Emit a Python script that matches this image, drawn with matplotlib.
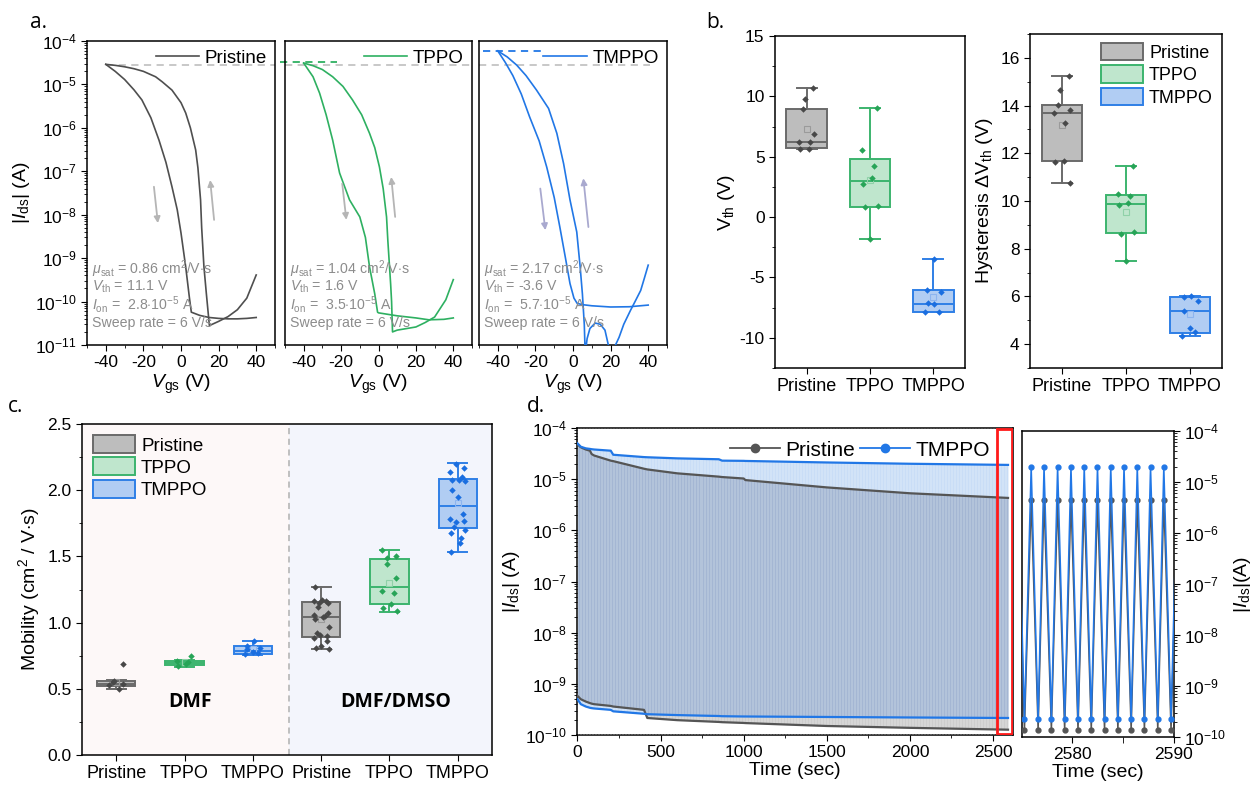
import numpy as np
import matplotlib
matplotlib.use("Agg")
import matplotlib.pyplot as plt
from matplotlib.patches import Patch
from matplotlib.lines import Line2D
from matplotlib.ticker import MultipleLocator, LogLocator, NullFormatter, FixedLocator

plt.rcParams['font.family'] = ['Liberation Sans', 'DejaVu Sans']
plt.rcParams['mathtext.fontset'] = 'custom'
plt.rcParams['mathtext.rm'] = 'Liberation Sans'
plt.rcParams['mathtext.it'] = 'Liberation Sans:italic'
plt.rcParams['mathtext.bf'] = 'Liberation Sans:bold'
plt.rcParams['mathtext.sf'] = 'Liberation Sans'
plt.rcParams['axes.linewidth'] = 1.1
plt.rcParams['axes.unicode_minus'] = False

# ---------------- colours ----------------
C_GREY = '#4f4f4f'
C_GREEN = '#2eb061'
C_BLUE = '#2177e6'

# ---------------- panel a data ----------------
pri_fwd_v = [-40, -35, -30, -25, -20.8, -16, -11.7, -8, -4.8, -2, 0, 2.5, 4.5, 5.5, 10, 15, 20, 25, 30, 35, 40]
pri_fwd_i = [2.9e-5, 2.0e-5, 1.3e-5, 7.5e-6, 4.4e-6, 1.7e-6, 5.2e-7, 1.6e-7, 4.4e-8, 1.3e-8, 3.8e-9, 6.3e-10,
             1.2e-10, 5.7e-11, 4.8e-11, 4.3e-11, 4.1e-11, 4.0e-11, 4.0e-11, 4.1e-11, 4.3e-11]
pri_rev_v = [40, 35, 30, 25, 20, 15.1, 13.5, 12.2, 11, 10.4, 9, 7.8, 5, 2.5, 0, -4.8, -10, -13.5, -20, -25, -30, -35, -40]
pri_rev_i = [4.1e-10, 1.2e-10, 6.5e-11, 4.5e-11, 3.5e-11, 2.8e-11, 1.5e-10, 6.3e-10, 5e-9, 2.2e-8, 1.2e-7, 3.1e-7,
             1.0e-6, 2.2e-6, 3.8e-6, 7.4e-6, 1.15e-5, 1.5e-5, 2.0e-5, 2.3e-5, 2.55e-5, 2.75e-5, 2.9e-5]

tppo_fwd_v = [-40, -35, -31.5, -28, -24.5, -20.8, -15.5, -10, -7, -4.8, -2, -0.5, 0, 10, 20, 27, 35, 40]
tppo_fwd_i = [3.1e-5, 1.5e-5, 6.3e-6, 2.0e-6, 5.2e-7, 9.1e-8, 2.2e-8, 8.9e-9, 3e-9, 6.3e-10, 1.5e-10, 5.7e-11,
              5.5e-11, 4.7e-11, 4.2e-11, 3.8e-11, 3.9e-11, 4.2e-11]
tppo_rev_v = [40, 36, 30, 25, 20, 10, 7.5, 7, 6.5, 5.9, 5, 4.3, 2.5, 0.5, -2, -4.8, -9, -13.9, -19, -24.5, -30, -35, -40]
tppo_rev_i = [3.2e-10, 1.1e-10, 4.4e-11, 3.3e-11, 2.6e-11, 2.2e-11, 2.0e-11, 1e-10, 2.5e-10, 6.3e-10, 2.5e-9, 8.9e-9,
              4e-8, 1.26e-7, 3.5e-7, 7.5e-7, 2.0e-6, 4.4e-6, 9e-6, 1.5e-5, 2.2e-5, 2.7e-5, 3.1e-5]

tmppo_fwd_v = [-40, -36, -32, -27.5, -23.1, -18, -14, -10, -7, -4, -1.6, 0.5, 2.2, 5, 10, 20, 30, 40]
tmppo_fwd_i = [5.9e-5, 3.2e-5, 1.6e-5, 6e-6, 1.8e-6, 5e-7, 1.26e-7, 2.5e-8, 5.2e-9, 1e-9, 2.6e-10, 1.2e-10,
               9.1e-11, 8.5e-11, 8e-11, 7.5e-11, 7.6e-11, 8.3e-11]
tmppo_rev_v = [40, 38, 36, 33, 30.6, 27, 24.5, 22.6, 21, 19.5, 18.8, 17, 14.5, 11.8, 9, 7.5, 6.5, 6.0, 5, 3.8, 2,
               -1.6, -5, -8.6, -13, -19.4, -25, -30, -35, -40]
tmppo_rev_i = [6.9e-10, 3.5e-10, 1.8e-10, 1e-10, 6.3e-11, 3e-11, 1.5e-11, 1e-11, 4e-12, 6e-12, 1e-11, 2.2e-11,
               3e-11, 3.2e-11, 2.4e-11, 1.4e-11, 6e-12, 3e-11, 1.5e-10, 6.3e-10, 4e-9, 2.2e-8, 1.5e-7, 7.5e-7,
               2.8e-6, 7.4e-6, 1.6e-5, 2.8e-5, 4.3e-5, 5.9e-5]

ion_levels = [2.85e-5, 3.3e-5, 5.9e-5]
a_labels = ['Pristine', 'TPPO', 'TMPPO']
a_texts = [
    [r'$\mu_{\rm sat}$ = 0.86 cm$^2$/V$\cdot$s', r'$V_{\rm th}$ = 11.1 V', r'$I_{\rm on}$ =  2.8$\cdot$10$^{-5}$ A', 'Sweep rate = 6 V/s'],
    [r'$\mu_{\rm sat}$ = 1.04 cm$^2$/V$\cdot$s', r'$V_{\rm th}$ = 1.6 V', r'$I_{\rm on}$ =  3.5$\cdot$10$^{-5}$ A', 'Sweep rate = 6 V/s'],
    [r'$\mu_{\rm sat}$ = 2.17 cm$^2$/V$\cdot$s', r'$V_{\rm th}$ = -3.6 V', r'$I_{\rm on}$ =  5.7$\cdot$10$^{-5}$ A', 'Sweep rate = 6 V/s'],
]

# ---------------- panel b data ----------------
groups = ['Pristine', 'TPPO', 'TMPPO']
vth_pts = [[10.67, 9.76, 8.96, 6.89, 6.25, 6.2, 5.65, 5.6],
           [9.0, 5.56, 4.24, 3.27, 2.72, 0.9, 0.85, -1.78],
           [-3.49, -6.03, -6.2, -7.15, -7.2, -7.85, -7.9]]
# whislo, q1, median, q3, whishi, mean
vth_stats = [(5.6, 5.7, 6.25, 8.95, 10.67, 7.3),
             (-1.78, 0.87, 2.95, 4.85, 9.0, 3.1),
             (-7.9, -7.88, -7.2, -6.03, -3.49, -6.6)]
hys_pts = [[15.26, 14.64, 14.04, 13.83, 13.69, 13.27, 11.67, 11.65, 10.77],
           [11.47, 10.3, 10.2, 9.9, 9.85, 8.7, 8.6, 7.5],
           [6.0, 5.98, 5.8, 5.41, 4.68, 4.5, 4.33]]
hys_stats = [(10.77, 11.67, 13.69, 14.04, 15.26, 13.2),
             (7.5, 8.65, 9.88, 10.26, 11.47, 9.55),
             (4.33, 4.48, 5.41, 5.97, 6.0, 5.25)]

# ---------------- panel c data ----------------
mob_labels = ['Pristine', 'TPPO', 'TMPPO', 'Pristine', 'TPPO', 'TMPPO']
mob_pts = [[0.69, 0.56, 0.55, 0.54, 0.53, 0.50],
           [0.75, 0.71, 0.70, 0.69, 0.67],
           [0.86, 0.82, 0.81, 0.80, 0.78, 0.77, 0.76],
           [1.27, 1.17, 1.16, 1.16, 1.15, 1.15, 1.12, 1.07, 1.06, 1.05, 1.04, 1.03, 0.97, 0.92, 0.91, 0.90,
            0.88, 0.86, 0.82, 0.81, 0.80],
           [1.55, 1.50, 1.49, 1.44, 1.34, 1.24, 1.22, 1.14, 1.11, 1.09],
           [2.20, 2.17, 2.14, 2.10, 2.08, 2.08, 2.07, 2.00, 1.95, 1.82, 1.78, 1.77, 1.76, 1.72, 1.70, 1.68,
            1.64, 1.60, 1.53]]
mob_stats = [(0.497, 0.524, 0.54, 0.562, 0.57, 0.55),
             (0.666, 0.681, 0.698, 0.711, 0.72, 0.70),
             (0.758, 0.766, 0.782, 0.822, 0.858, 0.80),
             (0.801, 0.894, 1.041, 1.154, 1.272, 1.03),
             (1.083, 1.139, 1.272, 1.479, 1.549, 1.30),
             (1.532, 1.718, 1.884, 2.084, 2.205, 1.90)]

# ---------------- panel d data ----------------
env_t = [0, 20, 50, 75, 85, 100, 200, 215, 400, 420, 600, 850, 870, 1000, 1010, 1500, 2000, 2590]
pri_on = [4.8e-5, 4.2e-5, 3.8e-5, 3.6e-5, 3.1e-5, 2.9e-5, 2.3e-5, 2.25e-5, 1.6e-5, 1.55e-5, 1.3e-5, 1.12e-5,
          1.1e-5, 1.03e-5, 9.6e-6, 6.9e-6, 5.3e-6, 4.3e-6]
tmp_on = [5.0e-5, 4.3e-5, 4.0e-5, 3.9e-5, 3.85e-5, 3.8e-5, 3.6e-5, 3.0e-5, 2.7e-5, 2.68e-5, 2.55e-5, 2.45e-5,
          2.3e-5, 2.28e-5, 2.27e-5, 2.12e-5, 2.0e-5, 1.9e-5]
pri_off = [5.8e-10, 5.0e-10, 4.5e-10, 4.2e-10, 4.1e-10, 4.0e-10, 3.7e-10, 3.6e-10, 3.1e-10, 2.15e-10, 1.95e-10,
           1.8e-10, 1.78e-10, 1.72e-10, 1.71e-10, 1.5e-10, 1.38e-10, 1.27e-10]
tmp_off = [5.0e-10, 4.0e-10, 3.6e-10, 3.4e-10, 3.35e-10, 3.3e-10, 3.1e-10, 2.9e-10, 2.6e-10, 2.55e-10, 2.45e-10,
           2.35e-10, 2.33e-10, 2.3e-10, 2.3e-10, 2.25e-10, 2.2e-10, 2.15e-10]

zz_t = [2574.7, 2575.34, 2576.0, 2576.68, 2577.26, 2577.98, 2578.59, 2579.28, 2579.9, 2580.59, 2581.2, 2581.89,
        2582.5, 2583.19, 2583.8, 2584.5, 2585.1, 2585.8, 2586.4, 2587.1, 2587.7, 2588.41, 2589.0, 2589.71, 2590.35]
zz_state = [1, 0, 1, 0, 1, 0, 1, 0, 1, 0, 1, 0, 1, 0, 1, 0, 1, 0, 1, 0, 1, 0, 1, 0, 1]
zz_pri_levels = (1.38e-10, 4.5e-6)
zz_tmp_levels = (2.25e-10, 2.0e-5)

# =====================================================
W, H = 1251, 795
fig = plt.figure(figsize=(W / 100, H / 100), dpi=100)


def add_ax(l, r, t, b):
    return fig.add_axes([l / W, 1 - b / H, (r - l) / W, (b - t) / H])


TICK = 12.5

# ---------------- panel a ----------------
axa = [add_ax(87, 275, 41, 345), add_ax(285, 472, 41, 345), add_ax(479, 667, 41, 345)]
curves = [(pri_fwd_v, pri_fwd_i, pri_rev_v, pri_rev_i, C_GREY),
          (tppo_fwd_v, tppo_fwd_i, tppo_rev_v, tppo_rev_i, C_GREEN),
          (tmppo_fwd_v, tmppo_fwd_i, tmppo_rev_v, tmppo_rev_i, C_BLUE)]
arrows = [((-14.4, 4.4e-8), (-12.3, 6.4e-9), (17.6, 7.6e-9), (15.5, 6.3e-8), '#b5b5b5'),
          ((-19.4, 5.2e-8), (-17.2, 7.6e-9), (8.9, 8.9e-9), (6.8, 7.4e-8), '#b5b5b5'),
          ((-17.4, 4.0e-8), (-14.7, 4.4e-9), (8.2, 5.2e-9), (5.5, 6.9e-8), '#a9a9cf')]
for k, ax in enumerate(axa):
    fv, fi, rv, ri, col = curves[k]
    ax.set_yscale('log')
    ax.set_ylim(1e-11, 1e-4)
    ax.set_xlim(-50, 50)
    if k == 0:
        ax.plot([-40, 50], [ion_levels[0]] * 2, ls=(0, (4, 3)), color='#c4c4c4', lw=1.3, zorder=1)
    elif k == 1:
        ax.plot([-50, 50], [ion_levels[0]] * 2, ls=(0, (4, 3)), color='#c4c4c4', lw=1.3, zorder=1)
        ax.plot([-52.8, -22], [ion_levels[1]] * 2, ls=(0, (4, 3)), color=C_GREEN, lw=1.3, zorder=1,
                clip_on=False)
    else:
        ax.plot([-50, 41], [ion_levels[0]] * 2, ls=(0, (4, 3)), color='#c4c4c4', lw=1.3, zorder=1)
        ax.plot([-48, -17], [ion_levels[2]] * 2, ls=(0, (4, 3)), color=C_BLUE, lw=1.3, zorder=1)
    ax.plot(fv, fi, color=col, lw=1.2, label=a_labels[k], zorder=3)
    ax.plot(rv, ri, color=col, lw=1.2, zorder=3)
    d0, d1, u0, u1, acol = arrows[k]
    ax.annotate('', xy=d1, xytext=d0, arrowprops=dict(arrowstyle='-|>', color=acol, lw=1.3,
                                                      mutation_scale=9, shrinkA=0, shrinkB=0))
    ax.annotate('', xy=u1, xytext=u0, arrowprops=dict(arrowstyle='-|>', color=acol, lw=1.3,
                                                      mutation_scale=9, shrinkA=0, shrinkB=0))
    ax.legend(loc='upper right', frameon=False, fontsize=13.5, handlelength=2.3, handletextpad=0.3,
              borderaxespad=0.15, borderpad=0.3)
    for j, s in enumerate(a_texts[k]):
        ax.text(0.025, 0.25 - j * 0.059, s, transform=ax.transAxes, fontsize=10.2, color='#8c8c8c',
                va='center', ha='left')
    ax.set_xticks([-40, -20, 0, 20, 40])
    ax.xaxis.set_minor_locator(MultipleLocator(10))
    ax.tick_params(axis='x', which='both', direction='out', labelsize=TICK, length=4)
    ax.tick_params(axis='x', which='minor', length=2.5)
    ax.set_xlabel(r'$V_{\rm gs}$ (V)', fontsize=14, labelpad=2)
    if k == 0:
        ax.yaxis.set_major_locator(LogLocator(base=10, numticks=12))
        ax.yaxis.set_minor_locator(LogLocator(base=10, subs=np.arange(2, 10), numticks=12))
        ax.yaxis.set_minor_formatter(NullFormatter())
        ax.tick_params(axis='y', which='both', direction='out', labelsize=TICK, length=4)
        ax.tick_params(axis='y', which='minor', length=2)
        ax.set_ylabel(r'|$I_{\rm ds}$| (A)', fontsize=14, labelpad=2)
    else:
        ax.tick_params(axis='y', which='both', left=False, labelleft=False)

# ---------------- box helper ----------------
BOXC = [dict(fc='#bdbdbd', ec='#6a6a6a', pc='#484848', mc='#9a9a9a'),
        dict(fc='#bfe6cd', ec='#3cb46e', pc='#27a457', mc='#8fd1a8'),
        dict(fc='#b1cdf3', ec='#2f7fe6', pc='#1a6ee0', mc='#8db5ef')]


def draw_box(ax, pos, st, pts, style, width):
    stats = [dict(whislo=st[0], q1=st[1], med=st[2], q3=st[3], whishi=st[4], mean=st[5], fliers=[])]
    ax.bxp(stats, positions=[pos], widths=width, patch_artist=True, showfliers=False, showmeans=True,
           meanprops=dict(marker='s', mfc='none', mec=style['mc'], ms=4, mew=0.8),
           boxprops=dict(facecolor=style['fc'], edgecolor=style['ec'], lw=1.4),
           whiskerprops=dict(color=style['ec'], lw=1.4), capprops=dict(color=style['ec'], lw=1.4),
           medianprops=dict(color=style['ec'], lw=1.4), capwidths=width / 2, manage_ticks=False)
    n = len(pts)
    offs = width * 0.2 * np.sin(np.arange(n) * 2.4 + pos)
    ax.plot(pos + offs, pts, 'D', ms=3.3, color=style['pc'], mec='none', zorder=5)


def style_box_ax(ax):
    ax.tick_params(axis='both', which='both', direction='out', labelsize=TICK, length=4)
    ax.tick_params(axis='y', which='minor', length=2)


# ---------------- panel b ----------------
axb1 = add_ax(775, 965, 36, 368)
axb2 = add_ax(1030, 1222, 34, 368)
for i in range(3):
    draw_box(axb1, i + 1, vth_stats[i], vth_pts[i], BOXC[i], 0.64)
    draw_box(axb2, i + 1, hys_stats[i], hys_pts[i], BOXC[i], 0.64)
axb1.set_xlim(0.5, 3.5)
axb1.set_ylim(-12.5, 15)
axb1.set_yticks([-10, -5, 0, 5, 10, 15])
axb1.yaxis.set_minor_locator(MultipleLocator(2.5))
axb1.set_xticks([1, 2, 3])
axb1.set_xticklabels(groups, fontsize=13)
axb1.set_ylabel(r'V$_{\rm th}$ (V)', fontsize=14, labelpad=2)
style_box_ax(axb1)
axb1.tick_params(axis='x', labelsize=13)

axb2.set_xlim(0.5, 3.5)
axb2.set_ylim(3, 17)
axb2.set_yticks([4, 6, 8, 10, 12, 14, 16])
axb2.yaxis.set_minor_locator(MultipleLocator(1))
axb2.set_xticks([1, 2, 3])
axb2.set_xticklabels(groups, fontsize=13)
axb2.set_ylabel(r'Hysteresis $\Delta$V$_{\rm th}$ (V)', fontsize=14, labelpad=4)
style_box_ax(axb2)
axb2.tick_params(axis='x', labelsize=13)
hand = [Patch(facecolor=s['fc'], edgecolor=s['ec'], lw=1.4) for s in BOXC]
axb2.legend(hand, groups, loc='upper right', frameon=False, fontsize=13, handlelength=2.3, handleheight=1.1,
            handletextpad=0.35, labelspacing=0.2, borderaxespad=0.2, borderpad=0.3)

# ---------------- panel c ----------------
axc = add_ax(82, 492, 424, 755)
axc.axvspan(0.5, 3.53, color='#fdf8f8', zorder=0, lw=0)
axc.axvspan(3.53, 6.5, color='#f3f5fc', zorder=0, lw=0)
axc.axvline(3.53, color='#b0b0b0', ls=(0, (4, 3)), lw=1.1, zorder=1)
for i in range(6):
    draw_box(axc, i + 1, mob_stats[i], mob_pts[i], BOXC[i % 3], 0.56)
axc.set_xlim(0.5, 6.5)
axc.set_ylim(0, 2.5)
axc.set_yticks([0, 0.5, 1.0, 1.5, 2.0, 2.5])
axc.set_yticklabels(['0.0', '0.5', '1.0', '1.5', '2.0', '2.5'])
axc.yaxis.set_minor_locator(MultipleLocator(0.25))
axc.set_xticks(range(1, 7))
axc.set_xticklabels(mob_labels)
style_box_ax(axc)
axc.tick_params(axis='x', labelsize=13)
axc.set_ylabel(r'Mobility (cm$^2$ / V$\cdot$s)', fontsize=14, labelpad=4)
axc.text(2.08, 0.40, 'DMF', fontsize=14, fontweight='bold', family=['Open Sans', 'DejaVu Sans'],
         ha='center', va='center')
axc.text(5.09, 0.40, 'DMF/DMSO', fontsize=14, fontweight='bold', family=['Open Sans', 'DejaVu Sans'],
         ha='center', va='center')
axc.legend(hand, groups, loc='upper left', frameon=False, fontsize=13.5, handlelength=2.2, handleheight=1.1,
           handletextpad=0.35, labelspacing=0.15, borderaxespad=0.3, borderpad=0.3)

# ---------------- panel d ----------------
axd = add_ax(577, 1013, 428, 735)
t = np.array(env_t, float)
p_on, p_off = np.array(pri_on), np.array(pri_off)
m_on, m_off = np.array(tmp_on), np.array(tmp_off)
axd.fill_between(t, p_off, p_on, color='#cdcdcd', lw=0, zorder=1)
axd.fill_between(t, m_off, m_on, color='#c9ddf6', lw=0, zorder=2)
axd.fill_between(t, np.maximum(p_off, m_off), np.minimum(p_on, m_on), color='#a2b6d3', lw=0, zorder=3)
# faint vertical striping produced by the dense switching cycles
stripe_t = np.arange(5, 2590, 9.0)
axd.vlines(stripe_t, 1e-10, 1e-4, colors='white', alpha=0.18, lw=0.8, zorder=3.5)
axd.plot(t, p_on, color='#555555', lw=1.6, zorder=4)
axd.plot(t, p_off, color='#555555', lw=1.6, zorder=4)
axd.plot(t, m_on, color=C_BLUE, lw=1.6, zorder=5)
axd.plot(t, m_off, color=C_BLUE, lw=1.6, zorder=5)
axd.axvspan(2525, 2613, ymin=0.003, ymax=0.997, fill=False, edgecolor='#ff1a1a', lw=2, zorder=6)
axd.set_yscale('log')
axd.set_ylim(1e-10, 1e-4)
axd.set_xlim(-3, 2620)
axd.set_xticks([0, 500, 1000, 1500, 2000, 2500])
axd.xaxis.set_minor_locator(MultipleLocator(250))
axd.yaxis.set_major_locator(LogLocator(base=10, numticks=12))
axd.yaxis.set_minor_locator(LogLocator(base=10, subs=np.arange(2, 10), numticks=12))
axd.yaxis.set_minor_formatter(NullFormatter())
axd.tick_params(axis='both', which='both', direction='out', labelsize=TICK, length=4)
axd.tick_params(axis='both', which='minor', length=2)
axd.set_xlabel('Time (sec)', fontsize=14, labelpad=1)
axd.set_ylabel(r'|$I_{\rm ds}$| (A)', fontsize=14, labelpad=2)
lh = [Line2D([], [], color='#555555', marker='o', ms=6, lw=1.3),
      Line2D([], [], color=C_BLUE, marker='o', ms=6, lw=1.3)]
axd.legend(lh, ['Pristine', 'TMPPO'], loc='upper right', ncol=2, frameon=False, fontsize=15,
           handlelength=2.4, handletextpad=0.25, columnspacing=0.25, borderaxespad=0.2,
           bbox_to_anchor=(0.975, 1.0))

axz = add_ax(1022, 1174, 431, 737)
st = np.array(zz_state)
zp = np.where(st == 1, zz_pri_levels[1], zz_pri_levels[0])
zm = np.where(st == 1, zz_tmp_levels[1], zz_tmp_levels[0])
axz.plot(zz_t, zp, color='#555555', lw=1.1, marker='o', ms=3.5, zorder=3)
axz.plot(zz_t, zm, color=C_BLUE, lw=1.1, marker='o', ms=3.5, zorder=4)
axz.set_yscale('log')
axz.set_ylim(1e-10, 1e-4)
axz.set_xlim(2575.1, 2590)
axz.set_xticks([2580, 2590])
axz.xaxis.set_minor_locator(FixedLocator([2575, 2585]))
axz.yaxis.tick_right()
axz.yaxis.set_label_position('right')
axz.yaxis.set_major_locator(LogLocator(base=10, numticks=12))
axz.yaxis.set_minor_locator(LogLocator(base=10, subs=np.arange(2, 10), numticks=12))
axz.yaxis.set_minor_formatter(NullFormatter())
axz.tick_params(axis='both', which='both', direction='out', labelsize=TICK, length=4)
axz.tick_params(axis='y', which='minor', length=2)
axz.tick_params(axis='x', which='minor', length=4)
axz.set_xlabel('Time (sec)', fontsize=14, labelpad=1)
axz.set_ylabel(r'|$I_{\rm ds}$|(A)', fontsize=14, labelpad=4)

# ---------------- panel letters ----------------
for s, x, y in [('a.', 30, 22), ('b.', 706, 22), ('c.', 8, 407), ('d.', 527, 407)]:
    fig.text(x / W, 1 - y / H, s, fontsize=15, ha='left', va='center', family=['Open Sans', 'DejaVu Sans'])

fig.savefig('out.png', dpi=100)
